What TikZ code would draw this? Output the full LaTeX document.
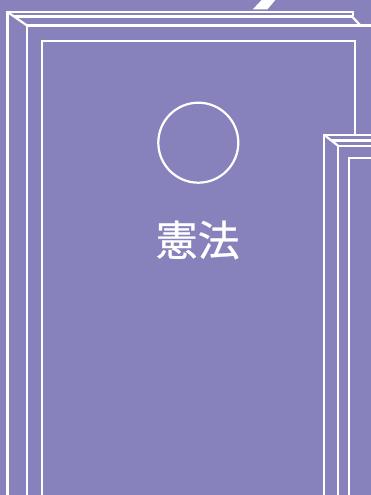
\documentclass[tikz,border=0pt]{standalone}
\usepackage{fontspec}
\newfontfamily\cjk[FakeBold=0.6]{Noto Sans CJK JP}
\definecolor{bg}{RGB}{136,130,188}
\begin{document}
\begin{tikzpicture}[x=1pt,y=-1pt,
  wline/.style={white,line width=2.2pt,line join=miter}]
\useasboundingbox (0,0) rectangle (371,495);
\fill[bg] (0,0) rectangle (371,495);
\begin{scope}
\clip (0,0) rectangle (371,495);
% slash behind
\fill[white] (252.7,9.5) -- (267.3,9.5) -- (277,-2) -- (263.5,-2) -- cycle;
% big book
\draw[wline] (7.5,500) -- (7.5,12) -- (353,12) -- (353,16.5);
\draw[wline] (14,16.5) -- (353,16.5);
\draw[wline] (7.5,12) -- (27,25.5);
\draw[wline] (352,16.5) -- (360.5,25.5);
\draw[wline] (27,500) -- (27,25.5) -- (380,25.5);
\draw[wline] (42.3,500) -- (42.3,41) -- (355,41) -- (355,200);
% small book
\fill[bg] (324.3,135) rectangle (380,500);
\draw[wline] (324.3,500) -- (324.3,135) -- (380,135);
\draw[wline] (324.3,135) -- (338.3,146);
\draw[wline] (331.5,140.5) -- (380,140.5);
\draw[wline] (338.3,500) -- (338.3,146) -- (380,146);
\draw[wline] (349.3,500) -- (349.3,157.7) -- (380,157.7);
\end{scope}
\node[circle,draw=white,line width=2.2pt,minimum size=80pt,inner sep=0pt] (emblem) at (198.3,142.7) {};
\node[text=white,inner sep=0pt,font=\cjk\fontsize{42}{42}\selectfont] (title) at (197.7,240) {憲法};
\end{tikzpicture}
\end{document}
